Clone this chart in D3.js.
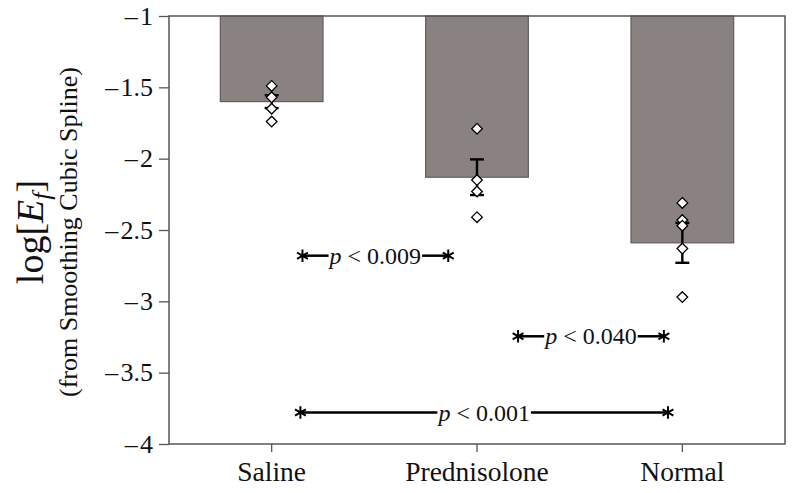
<!DOCTYPE html>
<html><head><meta charset="utf-8">
<script src="https://cdn.jsdelivr.net/npm/d3@7"></script>
<style>body{margin:0;background:#fff}svg{display:block}text{font-family:"Liberation Serif","DejaVu Serif",serif;fill:#111}</style>
</head><body>
<script>
const categories = ["Saline", "Prednisolone", "Normal"];
const means = [-1.60, -2.13, -2.59];
const sems = [0.045, 0.125, 0.14];
const salinePoints = [-1.49, -1.57, -1.65, -1.74];
const prednisolonePoints = [-1.79, -2.15, -2.23, -2.41];
const normalPoints = [-2.31, -2.43, -2.47, -2.63, -2.97];
const yTicks = [-1, -1.5, -2, -2.5, -3, -3.5, -4];
const comparisons = [
  {label: "0.009", from: 0.15, to: 0.86, y: -2.68},
  {label: "0.040", from: 1.20, to: 1.91, y: -3.245},
  {label: "0.001", from: 0.14, to: 1.93, y: -3.78}
];

const W = 800, H = 493;
const m = {left: 169, right: 15, top: 16, bottom: 49};
const svg = d3.select("body").append("svg").attr("width", W).attr("height", H);
const x = d3.scaleBand().domain(categories).range([m.left, W - m.right]).paddingInner(0.5).paddingOuter(0.25);
const y = d3.scaleLinear().domain([-4, -1]).range([H - m.bottom, m.top]);
const step = x.step();
const cx = i => x(categories[i]) + x.bandwidth() / 2;
const fx = v => x(categories[0]) + x.bandwidth() / 2 + v * step;

// bars
svg.append("g").selectAll("rect").data(means).join("rect")
  .attr("x", (d, i) => x(categories[i]))
  .attr("width", x.bandwidth())
  .attr("y", y(-1))
  .attr("height", d => y(d) - y(-1))
  .attr("fill", "#8a8181").attr("stroke", "#635b5b").attr("stroke-width", 1.2);

// frame
svg.append("rect").attr("x", m.left).attr("y", m.top)
  .attr("width", W - m.right - m.left).attr("height", H - m.bottom - m.top)
  .attr("fill", "none").attr("stroke", "#555").attr("stroke-width", 1.5);

// y axis
const ya = svg.append("g").attr("transform", `translate(${m.left},0)`)
  .call(d3.axisLeft(y).tickValues(yTicks).tickSize(10).tickPadding(6)
    .tickFormat(d => (d < 0 ? "\u2013\u200A" : "") + d3.format("")(Math.abs(d))));
ya.select(".domain").remove();
ya.selectAll("line").attr("stroke", "#555").attr("stroke-width", 1.3);
ya.selectAll("text").attr("font-size", 26).attr("fill", "#111");

// x axis
const xa = svg.append("g").attr("transform", `translate(0,${H - m.bottom})`)
  .call(d3.axisBottom(x).tickSize(8).tickPadding(9));
xa.select(".domain").remove();
xa.selectAll("line").attr("stroke", "#555").attr("stroke-width", 1.3);
xa.selectAll("text").attr("font-size", 27.5).attr("fill", "#111");

// error bars
const eb = svg.append("g").attr("stroke", "#000").attr("stroke-width", 2.4);
means.forEach((mu, i) => {
  const c = cx(i);
  eb.append("line").attr("x1", c).attr("x2", c).attr("y1", y(mu + sems[i])).attr("y2", y(mu - sems[i]));
  [mu + sems[i], mu - sems[i]].forEach(v =>
    eb.append("line").attr("x1", c - 7).attr("x2", c + 7).attr("y1", y(v)).attr("y2", y(v)));
});

// points
const pts = [salinePoints, prednisolonePoints, normalPoints];
const diamond = d3.symbol().type(d3.symbolDiamond2).size(72);
pts.forEach((arr, i) => {
  svg.append("g").selectAll("path").data(arr).join("path")
    .attr("d", diamond)
    .attr("transform", d => `translate(${cx(i)},${y(d)})`)
    .attr("fill", "#fff").attr("stroke", "#000").attr("stroke-width", 1.3);
});

// significance
const star = d3.symbol().type(d3.symbolAsterisk).size(110);
comparisons.forEach(c => {
  const x1 = fx(c.from), x2 = fx(c.to), yy = y(c.y), mid = (x1 + x2) / 2;
  const g = svg.append("g");
  const t = g.append("text").attr("x", mid).attr("y", yy + 8).attr("text-anchor", "middle").attr("font-size", 24);
  t.append("tspan").attr("font-style", "italic").text("p");
  t.append("tspan").text(" < " + c.label);
  const tw = t.node().getComputedTextLength();
  g.append("line").attr("x1", x1).attr("x2", mid - tw / 2 - 1).attr("y1", yy).attr("y2", yy).attr("stroke", "#000").attr("stroke-width", 2.5);
  g.append("line").attr("x1", mid + tw / 2 + 1).attr("x2", x2).attr("y1", yy).attr("y2", yy).attr("stroke", "#000").attr("stroke-width", 2.5);
  [x1, x2].forEach(xx => g.append("path").attr("d", star).attr("transform", `translate(${xx},${yy})`).attr("stroke", "#000").attr("stroke-width", 2));
});

// y labels
const yl = svg.append("text").attr("transform", "translate(43,232) rotate(-90)").attr("text-anchor", "middle").attr("font-size", 38);
yl.append("tspan").text("log[");
yl.append("tspan").attr("font-style", "italic").text("E");
yl.append("tspan").attr("font-style", "italic").attr("font-size", 26).attr("dy", 7).text("f");
yl.append("tspan").attr("dy", -7).text("]");
svg.append("text").attr("transform", "translate(77,232) rotate(-90)").attr("text-anchor", "middle").attr("font-size", 26)
  .text("(from Smoothing Cubic Spline)");
</script>
</body></html>
